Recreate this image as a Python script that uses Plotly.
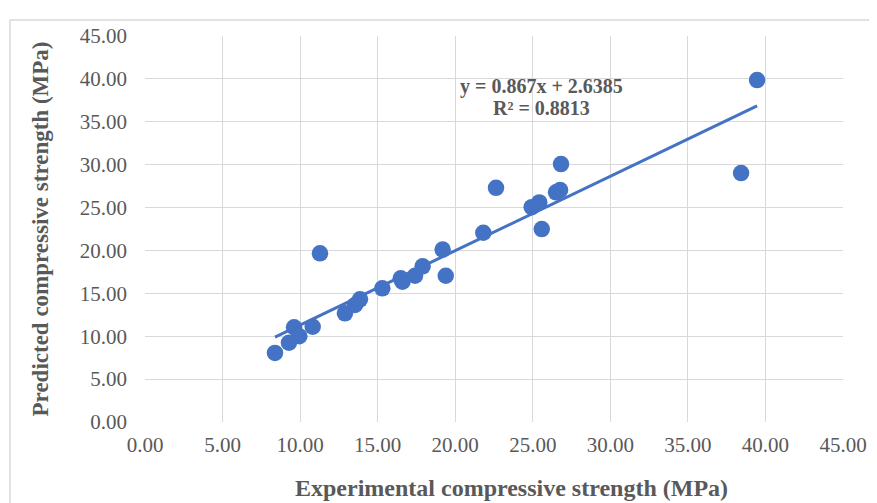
import plotly.graph_objects as go

experimental = [8.38, 9.28, 9.61, 9.95, 10.81, 11.28, 12.89, 13.54, 13.86, 15.30,
                16.49, 16.60, 17.41, 17.90, 19.19, 19.39, 21.81, 22.63, 24.93, 25.42,
                25.58, 26.50, 26.76, 26.82, 38.43, 39.46]
predicted = [8.05, 9.24, 11.05, 10.00, 11.10, 19.66, 12.67, 13.64, 14.30, 15.58,
             16.75, 16.35, 17.05, 18.15, 20.10, 17.05, 22.06, 27.30, 25.05, 25.60,
             22.49, 26.77, 27.04, 30.07, 29.02, 39.86]
slope = 0.867
intercept = 2.6385
equation_lines = ["y = 0.867x + 2.6385", "R² = 0.8813"]
x_title = "Experimental compressive strength (MPa)"
y_title = "Predicted compressive strength (MPa)"
tick_vals = [0, 5, 10, 15, 20, 25, 30, 35, 40, 45]

grey = "#595959"
blue = "#4472C4"
font_family = "Liberation Serif"

xmin, xmax = min(experimental), max(experimental)
trend_x = [xmin, xmax]
trend_y = [slope * v + intercept for v in trend_x]

fig = go.Figure()
fig.add_trace(go.Scatter(
    x=experimental, y=predicted, mode="markers",
    marker=dict(size=16.5, color=blue, line=dict(width=0)),
    showlegend=False, hoverinfo="x+y"))
fig.add_trace(go.Scatter(
    x=trend_x, y=trend_y, mode="lines",
    line=dict(color=blue, width=3),
    showlegend=False, hoverinfo="skip"))

for txt, ypos in zip(equation_lines, [39.15, 36.6]):
    fig.add_annotation(
        x=25.55, y=ypos, xref="x", yref="y", text="<b>" + txt + "</b>",
        showarrow=False, align="center",
        font=dict(family=font_family, size=20, color=grey))

L, T, PW, PH = 137, 28, 698, 386

# x-axis title (centred on the whole chart area, as in the reference)
fig.add_annotation(
    x=(504 - L) / PW, y=(T + PH - 480) / PH, xref="paper", yref="paper",
    xanchor="center", yanchor="middle", showarrow=False,
    text="<b>" + x_title + "</b>",
    font=dict(family=font_family, size=24, color=grey))

axis_common = dict(
    range=[0, 45], tickvals=tick_vals, tickformat=".2f",
    showgrid=True, gridcolor="#D9D9D9", gridwidth=1,
    zeroline=False, showline=False, ticks="", automargin=False,
    tickfont=dict(family=font_family, size=21, color=grey),
)

fig.update_xaxes(**axis_common, ticklabelstandoff=8)
fig.update_yaxes(**axis_common, ticklabelstandoff=17,
                 title=dict(text="<b>" + y_title + "</b>",
                            font=dict(family=font_family, size=23, color=grey),
                            standoff=24))

# outer chart-area border
fig.add_shape(type="rect", xref="paper", yref="paper",
              x0=(2 - L) / PW, x1=(900 - L) / PW,
              y0=(T + PH - 520) / PH, y1=(T + PH - 12) / PH,
              line=dict(color="#D9D9D9", width=1.5), fillcolor="rgba(0,0,0,0)",
              layer="below")

fig.update_layout(
    width=877, height=503,
    margin=dict(l=L, r=877 - L - PW, t=T, b=503 - T - PH),
    paper_bgcolor="white", plot_bgcolor="white",
)

fig.write_html("out.html")
